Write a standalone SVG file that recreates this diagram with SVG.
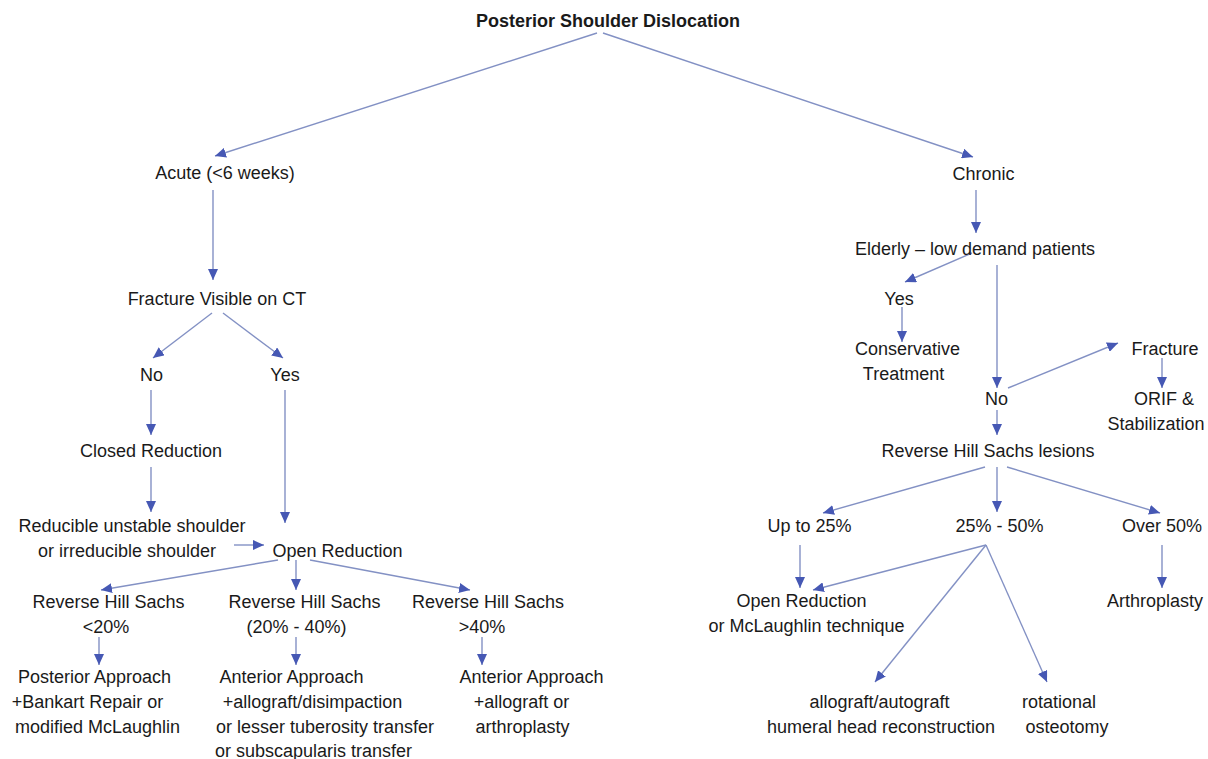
<svg xmlns="http://www.w3.org/2000/svg" width="1208" height="759" viewBox="0 0 1208 759">
<style>
text{font-family:"Liberation Sans",Arial,sans-serif;font-size:18px;fill:#1a1a1a;text-anchor:middle}
.b{font-weight:bold}
#connectors line{stroke:#8391c4;stroke-width:1.4;fill:none;marker-end:url(#ah)}
</style>
<defs>
<marker id="ah" markerUnits="userSpaceOnUse" markerWidth="11" markerHeight="10" refX="11" refY="5" orient="auto">
<path d="M0,0 L11,5 L0,10 z" fill="#4658b4"/>
</marker>
</defs>
<rect width="1208" height="759" fill="#fff"/>
<g id="connectors">
<line x1="597" y1="33" x2="215" y2="156"/>
<line x1="603" y1="33" x2="973" y2="157"/>
<line x1="213" y1="190" x2="213" y2="280"/>
<line x1="212" y1="313" x2="153" y2="358"/>
<line x1="223" y1="313" x2="283" y2="358"/>
<line x1="151" y1="390" x2="151" y2="435"/>
<line x1="151" y1="467" x2="151" y2="512"/>
<line x1="285" y1="390" x2="285" y2="523"/>
<line x1="234" y1="545" x2="264" y2="545"/>
<line x1="278" y1="560" x2="101" y2="590"/>
<line x1="296" y1="560" x2="296" y2="590"/>
<line x1="310" y1="560" x2="470" y2="590"/>
<line x1="99" y1="637" x2="99" y2="665"/>
<line x1="296" y1="637" x2="296" y2="665"/>
<line x1="482" y1="637" x2="482" y2="665"/>
<line x1="976" y1="190" x2="976" y2="233"/>
<line x1="972" y1="253" x2="905" y2="282"/>
<line x1="902" y1="307" x2="902" y2="342"/>
<line x1="997" y1="265" x2="997" y2="388"/>
<line x1="1008" y1="388" x2="1118" y2="343"/>
<line x1="1162" y1="358" x2="1162" y2="388"/>
<line x1="997" y1="410" x2="997" y2="435"/>
<line x1="985" y1="467" x2="823" y2="513"/>
<line x1="997" y1="467" x2="997" y2="512"/>
<line x1="1007" y1="467" x2="1160" y2="513"/>
<line x1="800" y1="545" x2="800" y2="588"/>
<line x1="986" y1="545" x2="813" y2="590"/>
<line x1="986" y1="545" x2="875" y2="682"/>
<line x1="986" y1="545" x2="1047" y2="682"/>
<line x1="1162" y1="545" x2="1162" y2="588"/>
</g>
<g id="n-title"><text class="b" x="608" y="27">Posterior Shoulder Dislocation</text></g>
<g id="n-acute"><text x="225" y="179">Acute (&lt;6 weeks)</text></g>
<g id="n-fracture-ct"><text x="217" y="305">Fracture Visible on CT</text></g>
<g id="n-no-left"><text x="151.5" y="381">No</text></g>
<g id="n-yes-left"><text x="285" y="381">Yes</text></g>
<g id="n-closed"><text x="151" y="457">Closed Reduction</text></g>
<g id="n-reducible"><text x="132" y="532">Reducible unstable shoulder</text><text x="127" y="557">or irreducible shoulder</text></g>
<g id="n-open-left"><text x="337.5" y="557">Open Reduction</text></g>
<g id="n-rhs20"><text x="108.5" y="608">Reverse Hill Sachs</text><text x="106" y="633">&lt;20%</text></g>
<g id="n-rhs2040"><text x="304.5" y="608">Reverse Hill Sachs</text><text x="296.5" y="633">(20% - 40%)</text></g>
<g id="n-rhs40"><text x="488" y="608">Reverse Hill Sachs</text><text x="482" y="633">&gt;40%</text></g>
<g id="n-posterior"><text x="94.5" y="683">Posterior Approach</text><text x="87.5" y="708">+Bankart Repair or</text><text x="97.5" y="733">modified McLaughlin</text></g>
<g id="n-anterior-mid"><text x="291.5" y="683">Anterior Approach</text><text x="312.5" y="708">+allograft/disimpaction</text><text x="325" y="733">or lesser tuberosity transfer</text><text x="313.5" y="757">or subscapularis transfer</text></g>
<g id="n-anterior-right"><text x="531.5" y="683">Anterior Approach</text><text x="521.5" y="708">+allograft or</text><text x="522.5" y="733">arthroplasty</text></g>
<g id="n-chronic"><text x="983.5" y="180">Chronic</text></g>
<g id="n-elderly"><text x="975" y="255">Elderly – low demand patients</text></g>
<g id="n-yes-right"><text x="899" y="305">Yes</text></g>
<g id="n-conservative"><text x="907.5" y="355">Conservative</text><text x="903.5" y="380">Treatment</text></g>
<g id="n-no-right"><text x="996.5" y="405">No</text></g>
<g id="n-fracture"><text x="1165" y="355">Fracture</text></g>
<g id="n-orif"><text x="1164" y="405">ORIF &amp;</text><text x="1156" y="430">Stabilization</text></g>
<g id="n-rhs-lesions"><text x="988" y="457">Reverse Hill Sachs lesions</text></g>
<g id="n-upto25"><text x="809.5" y="532">Up to 25%</text></g>
<g id="n-25-50"><text x="999.5" y="532">25% - 50%</text></g>
<g id="n-over50"><text x="1162" y="532">Over 50%</text></g>
<g id="n-open-right"><text x="801.5" y="607">Open Reduction</text><text x="806.5" y="632">or McLaughlin technique</text></g>
<g id="n-arthroplasty"><text x="1155" y="607">Arthroplasty</text></g>
<g id="n-allograft"><text x="879.5" y="708">allograft/autograft</text><text x="881" y="733">humeral head reconstruction</text></g>
<g id="n-rotational"><text x="1059" y="708">rotational</text><text x="1067" y="733">osteotomy</text></g>
</svg>
